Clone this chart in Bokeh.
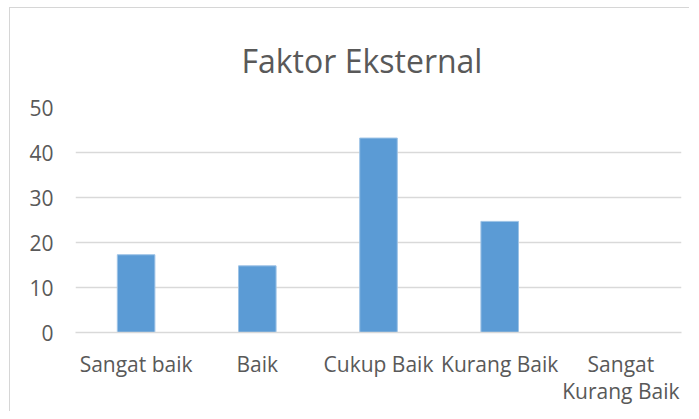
from bokeh.plotting import figure
from bokeh.models import FactorRange, Range1d, FixedTicker
from bokeh.embed import file_html
from bokeh.resources import INLINE

title_text = "Faktor Eksternal"
categories = ["Sangat baik", "Baik", "Cukup Baik", "Kurang Baik", "Sangat\nKurang Baik"]
values = [17.28, 14.81, 43.21, 24.69, 0]
y_ticks = [0, 10, 20, 30, 40, 50]

FONT = "Open Sans"
TXT = "#595959"
GRID = "#D9D9D9"

p = figure(
    x_range=FactorRange(*categories, range_padding=0),
    y_range=Range1d(0, 50),
    frame_width=606, frame_height=225,
    min_border_left=65, min_border_right=8, min_border_top=99, min_border_bottom=79,
    output_backend="svg", toolbar_location=None,
    title=title_text,
)
p.x_range.factor_padding = 0
p.styles = {"border-left": "1px solid #d6d6d6", "border-top": "1px solid #d6d6d6",
            "margin-left": "9px", "margin-top": "7px"}

p.vbar(x=categories, top=values, width=0.31, fill_color="#5B9BD5",
       line_color="#9DC3E6", line_width=1)

p.title.text_font = FONT
p.title.text_font_size = "32px"
p.title.text_font_style = "normal"
p.title.text_color = TXT
p.title.align = "left"
p.title.offset = 166
p.title.standoff = 51

p.outline_line_color = None
p.background_fill_color = "white"
p.border_fill_color = "white"

p.xgrid.grid_line_color = None
p.ygrid.grid_line_color = GRID
p.ygrid.grid_line_width = 1.3
p.ygrid.ticker = FixedTicker(ticks=y_ticks)

p.yaxis.ticker = FixedTicker(ticks=y_ticks)
p.yaxis.axis_line_color = None
p.yaxis.major_tick_line_color = None
p.yaxis.minor_tick_line_color = None
p.yaxis.major_tick_out = 0
p.yaxis.major_label_standoff = 22
p.yaxis.major_label_text_font = FONT
p.yaxis.major_label_text_font_size = "21px"
p.yaxis.major_label_text_color = TXT

p.xaxis.axis_line_color = GRID
p.xaxis.axis_line_width = 1.3
p.xaxis.major_tick_line_color = None
p.xaxis.minor_tick_line_color = None
p.xaxis.major_tick_out = 0
p.xaxis.major_label_standoff = 17
p.xaxis.major_label_text_font = FONT
p.xaxis.major_label_text_font_size = "21px"
p.xaxis.major_label_text_color = TXT
p.xaxis.major_label_text_line_height = 0.98

open("out.html", "w").write(file_html(p, INLINE))
